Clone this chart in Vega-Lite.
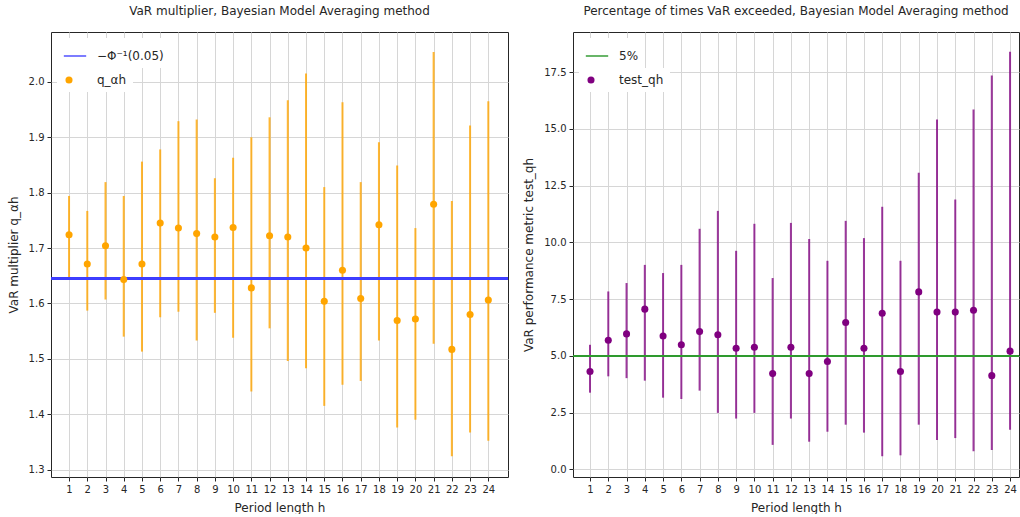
{
  "$schema": "https://vega.github.io/schema/vega-lite/v6.json",
  "background": "white",
  "padding": {"left": 6, "top": 4, "right": 0, "bottom": 0},
  "config": {
    "font": "DejaVu Sans",
    "view": {"stroke": "#262626", "strokeWidth": 1},
    "axis": {"gridColor": "#d6d6d6", "gridWidth": 1, "domain": false, "tickColor": "#262626", "labelColor": "#262626", "labelFontSize": 10, "titleFontSize": 12, "titleFontWeight": "normal", "titleColor": "#262626", "tickSize": 4, "labelPadding": 3, "labelOverlap": false},
    "title": {"fontSize": 12, "fontWeight": "normal", "color": "#262626"},
    "legend": {"orient": "top-left", "offset": 6, "fillColor": "white", "padding": 5, "labelFontSize": 12, "labelColor": "#262626", "labelOffset": 10, "rowPadding": 1,
      "layout": {"direction": "vertical", "margin": 0, "top-left": {"direction": "vertical", "margin": 0}}}
  },
  "datasets": {
    "d": [
      {"h": 1, "q": 1.724, "q_lo": 1.646, "q_hi": 1.794, "t": 4.31, "t_lo": 3.38, "t_hi": 5.49},
      {"h": 2, "q": 1.671, "q_lo": 1.587, "q_hi": 1.767, "t": 5.69, "t_lo": 4.10, "t_hi": 7.84},
      {"h": 3, "q": 1.704, "q_lo": 1.607, "q_hi": 1.819, "t": 5.97, "t_lo": 4.02, "t_hi": 8.21},
      {"h": 4, "q": 1.643, "q_lo": 1.540, "q_hi": 1.794, "t": 7.06, "t_lo": 3.91, "t_hi": 9.01},
      {"h": 5, "q": 1.671, "q_lo": 1.513, "q_hi": 1.856, "t": 5.88, "t_lo": 3.16, "t_hi": 8.65},
      {"h": 6, "q": 1.745, "q_lo": 1.575, "q_hi": 1.878, "t": 5.49, "t_lo": 3.10, "t_hi": 9.01},
      {"h": 7, "q": 1.736, "q_lo": 1.585, "q_hi": 1.929, "t": 6.07, "t_lo": 3.47, "t_hi": 10.60},
      {"h": 8, "q": 1.726, "q_lo": 1.533, "q_hi": 1.932, "t": 5.93, "t_lo": 2.49, "t_hi": 11.39},
      {"h": 9, "q": 1.720, "q_lo": 1.583, "q_hi": 1.826, "t": 5.34, "t_lo": 2.24, "t_hi": 9.63},
      {"h": 10, "q": 1.737, "q_lo": 1.538, "q_hi": 1.863, "t": 5.38, "t_lo": 2.49, "t_hi": 10.82},
      {"h": 11, "q": 1.628, "q_lo": 1.441, "q_hi": 1.900, "t": 4.22, "t_lo": 1.08, "t_hi": 8.43},
      {"h": 12, "q": 1.722, "q_lo": 1.555, "q_hi": 1.936, "t": 5.38, "t_lo": 2.24, "t_hi": 10.86},
      {"h": 13, "q": 1.720, "q_lo": 1.496, "q_hi": 1.967, "t": 4.22, "t_lo": 1.22, "t_hi": 10.15},
      {"h": 14, "q": 1.700, "q_lo": 1.483, "q_hi": 2.015, "t": 4.75, "t_lo": 1.66, "t_hi": 9.19},
      {"h": 15, "q": 1.604, "q_lo": 1.415, "q_hi": 1.810, "t": 6.47, "t_lo": 1.97, "t_hi": 10.95},
      {"h": 16, "q": 1.660, "q_lo": 1.453, "q_hi": 1.963, "t": 5.34, "t_lo": 1.62, "t_hi": 10.19},
      {"h": 17, "q": 1.609, "q_lo": 1.460, "q_hi": 1.819, "t": 6.88, "t_lo": 0.58, "t_hi": 11.57},
      {"h": 18, "q": 1.742, "q_lo": 1.533, "q_hi": 1.891, "t": 4.31, "t_lo": 0.62, "t_hi": 9.19},
      {"h": 19, "q": 1.569, "q_lo": 1.376, "q_hi": 1.849, "t": 7.82, "t_lo": 1.97, "t_hi": 13.07},
      {"h": 20, "q": 1.572, "q_lo": 1.390, "q_hi": 1.736, "t": 6.93, "t_lo": 1.30, "t_hi": 15.42},
      {"h": 21, "q": 1.779, "q_lo": 1.527, "q_hi": 2.054, "t": 6.93, "t_lo": 1.38, "t_hi": 11.89},
      {"h": 22, "q": 1.517, "q_lo": 1.324, "q_hi": 1.785, "t": 7.01, "t_lo": 0.80, "t_hi": 15.86},
      {"h": 23, "q": 1.580, "q_lo": 1.367, "q_hi": 1.921, "t": 4.13, "t_lo": 0.86, "t_hi": 17.35},
      {"h": 24, "q": 1.606, "q_lo": 1.352, "q_hi": 1.965, "t": 5.21, "t_lo": 1.75, "t_hi": 18.40}
    ]
  },
  "resolve": {"scale": {"stroke": "independent", "fill": "independent"}, "legend": {"stroke": "independent", "fill": "independent"}},
  "spacing": 12,
  "hconcat": [
    {
      "width": 457,
      "height": 445,
      "title": {"text": "VaR multiplier, Bayesian Model Averaging method", "offset": 14},
      "data": {"name": "d"},
      "layer": [
        {
          "mark": {"type": "rule", "strokeWidth": 2, "opacity": 0.8, "color": "#ffa500"},
          "encoding": {
            "x": {"field": "h", "type": "quantitative", "scale": {"domain": [0.01, 25.08], "nice": false, "zero": false},
              "axis": {"values": [1,2,3,4,5,6,7,8,9,10,11,12,13,14,15,16,17,18,19,20,21,22,23,24], "format": "d", "labelAngle": 0, "labelOverlap": false, "grid": true, "title": "Period length h", "titlePadding": 8}},
            "y": {"field": "q_lo", "type": "quantitative", "scale": {"domain": [1.2866, 2.09], "nice": false, "zero": false},
              "axis": {"values": [1.3,1.4,1.5,1.6,1.7,1.8,1.9,2.0], "format": ".1f", "grid": true, "title": "VaR multiplier q_αh", "titlePadding": 8}},
            "y2": {"field": "q_hi"}
          }
        },
        {
          "mark": {"type": "rule", "strokeWidth": 1.5, "opacity": 0.85},
          "encoding": {
            "y": {"datum": 1.645, "type": "quantitative", "scale": {"domain": [1.2866, 2.09], "nice": false, "zero": false},
              "axis": {"values": [1.3,1.4,1.5,1.6,1.7,1.8,1.9,2.0], "format": ".1f", "grid": true, "title": "VaR multiplier q_αh", "titlePadding": 8}},
            "stroke": {"datum": "−Φ⁻¹(0.05)", "type": "nominal",
              "scale": {"domain": ["−Φ⁻¹(0.05)"], "range": ["#4040ff"]},
              "legend": {"title": null, "symbolType": "stroke", "symbolSize": 500, "symbolStrokeWidth": 1.6, "padding": 6}}
          }
        },
        {
          "mark": {"type": "point", "filled": true, "size": 50, "opacity": 1},
          "encoding": {
            "x": {"field": "h", "type": "quantitative", "scale": {"domain": [0.01, 25.08], "nice": false, "zero": false},
              "axis": {"values": [1,2,3,4,5,6,7,8,9,10,11,12,13,14,15,16,17,18,19,20,21,22,23,24], "format": "d", "labelAngle": 0, "labelOverlap": false, "grid": true, "title": "Period length h", "titlePadding": 8}},
            "y": {"field": "q", "type": "quantitative"},
            "fill": {"datum": "q_αh", "type": "nominal",
              "scale": {"domain": ["q_αh"], "range": ["#ffa500"]},
              "legend": {"title": null, "symbolType": "circle", "symbolSize": 50, "symbolStrokeWidth": 0, "padding": 6, "labelOffset": 22}}
          }
        }
      ]
    },
    {
      "width": 446,
      "height": 445,
      "title": {"text": "Percentage of times VaR exceeded, Bayesian Model Averaging method", "offset": 14},
      "data": {"name": "d"},
      "layer": [
        {
          "mark": {"type": "rule", "strokeWidth": 2, "opacity": 0.78, "color": "#800080"},
          "encoding": {
            "x": {"field": "h", "type": "quantitative", "scale": {"domain": [0.068, 24.49], "nice": false, "zero": false},
              "axis": {"values": [1,2,3,4,5,6,7,8,9,10,11,12,13,14,15,16,17,18,19,20,21,22,23,24], "format": "d", "labelAngle": 0, "labelOverlap": false, "grid": true, "title": "Period length h", "titlePadding": 8}},
            "y": {"field": "t_lo", "type": "quantitative", "scale": {"domain": [-0.335, 19.27], "nice": false, "zero": false},
              "axis": {"values": [0,2.5,5,7.5,10,12.5,15,17.5], "format": ".1f", "grid": true, "title": "VaR performance metric test_qh", "titlePadding": 8}},
            "y2": {"field": "t_hi"}
          }
        },
        {
          "mark": {"type": "rule", "strokeWidth": 1.6, "opacity": 0.9},
          "encoding": {
            "y": {"datum": 5, "type": "quantitative", "scale": {"domain": [-0.335, 19.27], "nice": false, "zero": false},
              "axis": {"values": [0,2.5,5,7.5,10,12.5,15,17.5], "format": ".1f", "grid": true, "title": "VaR performance metric test_qh", "titlePadding": 8}},
            "stroke": {"datum": "5%", "type": "nominal",
              "scale": {"domain": ["5%"], "range": ["#2f9a2f"]},
              "legend": {"title": null, "symbolType": "stroke", "symbolSize": 500, "symbolStrokeWidth": 1.6, "padding": 6}}
          }
        },
        {
          "mark": {"type": "point", "filled": true, "size": 50, "opacity": 1},
          "encoding": {
            "x": {"field": "h", "type": "quantitative", "scale": {"domain": [0.068, 24.49], "nice": false, "zero": false},
              "axis": {"values": [1,2,3,4,5,6,7,8,9,10,11,12,13,14,15,16,17,18,19,20,21,22,23,24], "format": "d", "labelAngle": 0, "labelOverlap": false, "grid": true, "title": "Period length h", "titlePadding": 8}},
            "y": {"field": "t", "type": "quantitative"},
            "fill": {"datum": "test_qh", "type": "nominal",
              "scale": {"domain": ["test_qh"], "range": ["#800080"]},
              "legend": {"title": null, "symbolType": "circle", "symbolSize": 50, "symbolStrokeWidth": 0, "padding": 6, "labelOffset": 22}}
          }
        }
      ]
    }
  ]
}
